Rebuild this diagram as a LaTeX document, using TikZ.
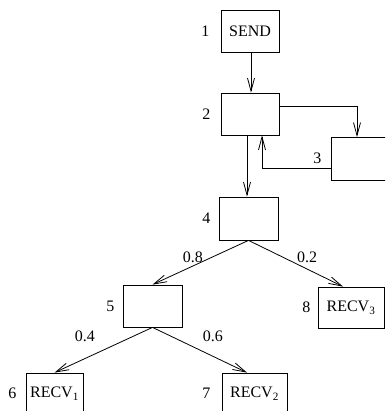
\documentclass[tikz,border=0pt]{standalone}
\usepackage{fontspec}
\setmainfont{Liberation Serif}
\usetikzlibrary{arrows.meta,calc}
\begin{document}
\begin{tikzpicture}[x=1pt,y=-1pt,
  font=\fontsize{16}{19}\selectfont,
  box/.style 2 args={draw,line width=0.8pt,inner sep=0pt,minimum width=#1,minimum height=#2},
  num/.style 2 args={label={[inner sep=0pt,label distance=#2]left:#1}},
  edge/.style={line width=0.8pt,-{Straight Barb[length=13pt,width=7pt,line width=0.8pt]}},
  prob/.style={inner sep=0pt}]
\clip (0,0) rectangle (385,411);
\node[box={58pt}{42pt},num={1}{11pt}] (b1) at (250,31) {SEND};
\node[box={58pt}{42pt},num={2}{10pt}] (b2) at (250,114) {};
\node[box={60pt}{42.5pt},num={3}{9pt}] (b3) at (361,158.75) {};
\node[box={59pt}{43pt},num={4}{8pt}] (b4) at (248.5,218.5) {};
\node[box={59pt}{42pt},num={5}{8pt}] (b5) at (152.5,306) {};
\node[box={66pt}{41pt},num={8}{7pt}] (b8) at (351,307.5) {RECV\textsubscript{3}};
\node[box={57pt}{41pt},num={6}{9pt}] (b6) at (54.5,393.5) {RECV\textsubscript{1}};
\node[box={65pt}{41pt},num={7}{11pt}] (b7) at (254.5,393.5) {RECV\textsubscript{2}};
\draw[edge] ([xshift=1pt]b1.south) -- ([xshift=1pt]b2.north);
\draw[edge] ([xshift=-3pt]b2.south) -- ([xshift=-1.5pt]b4.north);
\draw[edge] ([yshift=8pt]b2.east) -| ([xshift=-4pt]b3.north);
\draw[edge] ([yshift=-10pt]b3.west) -| ([xshift=12pt]b2.south);
\draw[edge] (b4.south) -- node[prob,pos=0.58,yshift=9pt]{0.8} (b5.north);
\draw[edge] (b4.south) -- node[prob,pos=0.62,yshift=12pt]{0.2} ([xshift=-8pt]b8.north);
\draw[edge] (b5.south) -- node[prob,pos=0.69,yshift=22pt]{0.4} (b6.north);
\draw[edge] (b5.south) -- node[prob,pos=0.64,yshift=20pt]{0.6} ([xshift=-7.5pt]b7.north);
\end{tikzpicture}
\end{document}
